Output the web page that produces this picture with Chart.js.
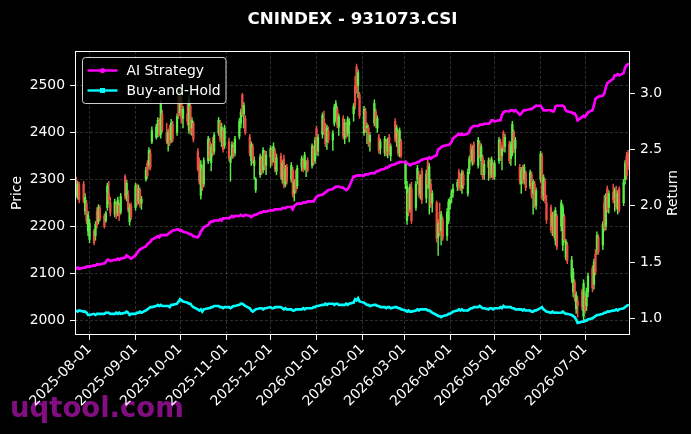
<!DOCTYPE html>
<html>
<head>
<meta charset="utf-8">
<script src="https://cdn.jsdelivr.net/npm/chart.js@4.4.1/dist/chart.umd.min.js"></script>
<style>
  html, body { margin: 0; padding: 0; background: #000; }
  canvas { display: block; }
</style>
</head>
<body>
<canvas id="myChart" width="691" height="434"></canvas>
<script>
// trading days run Mon-Fri from firstDay to lastDay
const firstDay = "2025-07-23";
const lastDay = "2026-07-30";
const monthLabels = ["2025-08-01", "2025-09-01", "2025-10-01", "2025-11-01", "2025-12-01", "2026-01-01",
  "2026-02-01", "2026-03-01", "2026-04-01", "2026-05-01", "2026-06-01", "2026-07-01"];
const priceTicks = [2000, 2100, 2200, 2300, 2400, 2500];
const returnTicks = [1.0, 1.5, 2.0, 2.5, 3.0];

// one line per week
const opens = [
  2298,2262,2288,
  2290,2232,2248,2190,2172, 2190,2180,2232,2210,2238, 2222,2212,2240,2270,2250, 2226,2246,2228,2244,2230,
  2306,2262,2266,2210,2244, 2240,2282,2254,2278,2250, 2300,2334,2330,2356,2380, 2390,2400,2424,2396,2440,
  2400,2378,2410,2384,2418, 2400,2480,2442,2470,2430, 2440,2405,2456,2410,2420, 2360,2330,2266,2322,2290,
  2340,2380,2336,2372,2360, 2400,2420,2390,2404,2372, 2380,2336,2350,2368,2356, 2392,2420,2480,2440,2430,
  2390,2340,2370,2330,2278, 2310,2344,2320,2356,2330, 2348,2362,2340,2360,2318, 2350,2300,2344,2290,2326,
  2300,2320,2272,2298,2286, 2326,2340,2324,2330,2340, 2330,2366,2340,2408,2360, 2396,2430,2404,2380,2404,
  2384,2420,2430,2450,2412, 2430,2390,2416,2398,2416, 2440,2500,2540,2500,2480, 2400,2446,2410,2410,2380,
  2420,2444,2410,2390,2366, 2356,2380,2360,2390,2350, 2424,2390,2400,2356,2380, 2290,2212,2270,2236,2280,
  2240,2300,2310,2270,2318, 2260,2336,2280,2290,2250, 2250,2176,2230,2190,2214, 2180,2212,2246,2262,2272,
  2284,2316,2300,2282,2310, 2270,2320,2370,2340,2376, 2330,2376,2340,2346,2310, 2326,2338,2310,2330,2306,
  2340,2380,2350,2400,2370, 2376,2344,2360,2400,2366, 2326,2290,2320,2300,2314, 2286,2310,2270,2290,2244,
  2300,2350,2266,2296,2250, 2240,2200,2226,2170,2220, 2200,2160,2220,2134,2160, 2090,2060,2080,2024,2040,
  2060,2008,2050,2030,2060, 2110,2076,2140,2150,2176, 2160,2250,2200,2280,2240, 2272,2260,2276,2240,2280,
  2250,2300,2350,2356
];
const highs = [
  2305,2296,2294,
  2296,2270,2255,2232,2215, 2194,2210,2240,2246,2244, 2226,2232,2292,2296,2262, 2258,2252,2262,2250,2270,
  2310,2298,2276,2248,2250, 2292,2290,2288,2282,2264, 2326,2340,2368,2364,2412, 2418,2432,2430,2468,2448,
  2420,2406,2416,2428,2424, 2440,2486,2496,2476,2456, 2462,2480,2464,2432,2424, 2366,2346,2340,2330,2346,
  2392,2388,2376,2390,2400, 2432,2426,2420,2410,2416, 2388,2350,2380,2378,2392, 2430,2450,2484,2464,2436,
  2396,2380,2376,2348,2304, 2354,2350,2368,2362,2360, 2372,2370,2378,2366,2354, 2356,2340,2352,2330,2332,
  2336,2326,2300,2320,2330, 2350,2346,2358,2340,2346, 2376,2372,2390,2414,2396, 2442,2446,2420,2416,2412,
  2404,2460,2468,2456,2440, 2436,2428,2422,2434,2430, 2462,2520,2546,2534,2486, 2456,2452,2420,2416,2400,
  2470,2450,2436,2396,2386, 2392,2386,2388,2396,2376, 2430,2416,2406,2410,2386, 2340,2296,2282,2290,2294,
  2296,2330,2318,2310,2324, 2320,2342,2334,2300,2276, 2254,2214,2250,2232,2220, 2238,2258,2262,2278,2290,
  2300,2322,2312,2320,2318, 2322,2350,2376,2372,2380, 2390,2382,2376,2352,2340, 2346,2344,2348,2336,2340,
  2390,2386,2372,2404,2396, 2382,2380,2424,2406,2390, 2332,2326,2330,2332,2318, 2320,2316,2300,2296,2282,
  2360,2356,2310,2302,2266, 2246,2230,2232,2240,2226, 2256,2246,2226,2172,2166, 2136,2110,2086,2060,2050,
  2066,2086,2056,2068,2100, 2116,2130,2150,2188,2182, 2210,2266,2270,2286,2276, 2290,2282,2286,2276,2284,
  2300,2340,2358,2362
];
const lows = [
  2262,2258,2250,
  2250,2225,2205,2180,2165, 2160,2170,2196,2205,2212, 2196,2208,2234,2248,2222, 2220,2216,2222,2212,2226,
  2258,2254,2230,2202,2214, 2234,2244,2248,2240,2236, 2296,2302,2322,2320,2376, 2386,2390,2392,2388,2400,
  2376,2360,2372,2378,2380, 2394,2430,2436,2420,2410, 2416,2398,2396,2394,2380, 2318,2290,2258,2276,2284,
  2334,2340,2318,2350,2354, 2394,2380,2370,2358,2366, 2340,2296,2344,2346,2350, 2386,2410,2434,2410,2396,
  2350,2330,2334,2300,2272, 2304,2310,2314,2320,2310, 2326,2330,2336,2316,2310, 2300,2292,2282,2284,2290,
  2294,2262,2254,2270,2280, 2318,2316,2320,2306,2316, 2324,2330,2334,2352,2350, 2388,2396,2370,2364,2378,
  2362,2414,2424,2410,2394, 2386,2376,2388,2392,2380, 2424,2450,2484,2474,2430, 2394,2400,2376,2370,2360,
  2414,2410,2400,2356,2354, 2350,2350,2346,2352,2340, 2380,2370,2350,2348,2346, 2280,2204,2222,2230,2206,
  2234,2290,2262,2258,2248, 2250,2282,2226,2240,2230, 2166,2138,2180,2160,2170, 2170,2206,2236,2250,2262,
  2276,2278,2276,2270,2280, 2264,2312,2336,2330,2332, 2324,2346,2310,2300,2300, 2298,2302,2304,2300,2300,
  2334,2340,2320,2360,2358, 2334,2330,2350,2356,2330, 2290,2270,2292,2290,2276, 2280,2260,2226,2240,2236,
  2294,2256,2254,2250,2206, 2186,2180,2176,2160,2150, 2190,2148,2166,2128,2120, 2080,2050,2040,2014,2006,
  2020,2000,2016,2020,2050, 2060,2066,2096,2140,2140, 2150,2190,2192,2230,2228, 2250,2232,2236,2226,2230,
  2244,2290,2300,2320
];
const closes = [
  2268,2290,2256,
  2255,2262,2212,2225,2206, 2165,2204,2202,2240,2216, 2200,2228,2286,2256,2230, 2252,2224,2256,2222,2264,
  2264,2292,2236,2240,2220, 2286,2250,2280,2246,2258, 2320,2308,2362,2326,2404, 2412,2426,2398,2462,2406,
  2382,2400,2378,2420,2386, 2434,2438,2488,2426,2450, 2424,2470,2404,2426,2386, 2322,2296,2332,2282,2340,
  2386,2346,2370,2356,2394, 2426,2386,2412,2364,2410, 2346,2344,2374,2352,2386, 2424,2444,2438,2458,2400,
  2356,2374,2340,2340,2300, 2348,2316,2362,2328,2352, 2366,2336,2370,2322,2346, 2306,2334,2288,2322,2296,
  2330,2268,2294,2276,2324, 2344,2322,2352,2336,2320, 2370,2336,2384,2358,2390, 2436,2402,2376,2410,2384,
  2398,2454,2462,2416,2434, 2392,2420,2394,2428,2424, 2456,2458,2490,2528,2436, 2450,2406,2414,2376,2394,
  2462,2416,2430,2362,2380, 2386,2356,2382,2358,2370, 2386,2410,2356,2404,2350, 2334,2286,2230,2284,2212,
  2290,2324,2268,2304,2256, 2312,2290,2328,2246,2270, 2174,2206,2186,2226,2176, 2230,2252,2256,2270,2280,
  2294,2284,2282,2314,2288, 2316,2344,2342,2364,2338, 2384,2350,2370,2306,2332, 2340,2306,2342,2304,2334,
  2384,2346,2366,2366,2390, 2340,2374,2418,2362,2384, 2296,2320,2298,2326,2282, 2314,2266,2294,2246,2276,
  2354,2262,2304,2258,2214, 2192,2224,2184,2234,2156, 2250,2240,2172,2168,2126, 2128,2102,2046,2054,2030,
  2028,2078,2022,2062,2094, 2068,2124,2102,2180,2146, 2204,2196,2262,2236,2270, 2256,2276,2242,2270,2236,
  2294,2334,2308,2330
];
const aiReturn = [
  1.44,1.45,1.44,
  1.45,1.45,1.46,1.46,1.46, 1.47,1.47,1.48,1.48,1.48, 1.49,1.50,1.52,1.52,1.51, 1.52,1.52,1.53,1.52,1.53,
  1.54,1.56,1.55,1.54,1.53, 1.56,1.58,1.60,1.61,1.62, 1.64,1.66,1.67,1.68,1.70, 1.72,1.73,1.72,1.74,1.74,
  1.74,1.75,1.76,1.77,1.78, 1.79,1.79,1.78,1.78,1.77, 1.76,1.75,1.75,1.74,1.73, 1.72,1.74,1.77,1.79,1.81,
  1.83,1.85,1.86,1.86,1.87, 1.87,1.88,1.87,1.89,1.89, 1.89,1.90,1.91,1.90,1.91, 1.91,1.92,1.91,1.91,1.92,
  1.91,1.90,1.91,1.92,1.92, 1.94,1.94,1.95,1.95,1.95, 1.96,1.96,1.96,1.97,1.97, 1.97,1.98,1.98,1.98,1.99,
  1.99,1.97,2.00,2.01,2.02, 2.02,2.03,2.03,2.03,2.04, 2.04,2.04,2.06,2.08,2.09, 2.10,2.11,2.12,2.13,2.14,
  2.15,2.16,2.17,2.17,2.17, 2.16,2.15,2.14,2.15,2.17, 2.26,2.26,2.27,2.27,2.27, 2.27,2.28,2.28,2.28,2.29,
  2.29,2.30,2.31,2.31,2.32, 2.33,2.34,2.34,2.35,2.36, 2.37,2.38,2.38,2.39,2.39, 2.39,2.38,2.37,2.36,2.37,
  2.38,2.39,2.39,2.40,2.41, 2.42,2.42,2.43,2.42,2.43, 2.45,2.50,2.51,2.52,2.53, 2.54,2.54,2.55,2.57,2.60,
  2.63,2.64,2.63,2.64,2.63, 2.64,2.66,2.69,2.70,2.71, 2.71,2.72,2.72,2.72,2.73, 2.73,2.74,2.76,2.76,2.75,
  2.76,2.76,2.81,2.83,2.84, 2.84,2.85,2.85,2.84,2.85, 2.81,2.82,2.84,2.85,2.85, 2.86,2.86,2.87,2.88,2.89,
  2.89,2.87,2.85,2.85,2.85, 2.85,2.84,2.84,2.88,2.89, 2.89,2.89,2.88,2.85,2.84, 2.83,2.82,2.82,2.80,2.76,
  2.79,2.80,2.79,2.81,2.83, 2.85,2.89,2.95,2.96,2.97, 2.98,3.00,3.05,3.09,3.10, 3.13,3.16,3.16,3.17,3.16,
  3.18,3.23,3.25,3.26
];
const bhReturn = [
  1.07,1.06,1.07,
  1.06,1.06,1.05,1.03,1.03, 1.04,1.03,1.04,1.04,1.04, 1.04,1.05,1.05,1.05,1.04, 1.04,1.05,1.04,1.05,1.04,
  1.05,1.06,1.05,1.03,1.04, 1.04,1.05,1.05,1.06,1.05, 1.07,1.08,1.09,1.10,1.10, 1.11,1.12,1.11,1.12,1.11,
  1.11,1.11,1.10,1.12,1.12, 1.13,1.15,1.17,1.16,1.15, 1.14,1.13,1.13,1.11,1.10, 1.08,1.07,1.08,1.06,1.08,
  1.09,1.09,1.10,1.10,1.11, 1.11,1.10,1.10,1.09,1.10, 1.10,1.09,1.10,1.11,1.11, 1.12,1.13,1.13,1.12,1.11,
  1.09,1.07,1.06,1.07,1.08, 1.09,1.09,1.08,1.09,1.09, 1.10,1.09,1.09,1.10,1.10, 1.10,1.09,1.08,1.09,1.08,
  1.08,1.07,1.07,1.08,1.08, 1.08,1.09,1.08,1.09,1.09, 1.09,1.10,1.10,1.11,1.11, 1.12,1.12,1.13,1.12,1.13,
  1.13,1.12,1.13,1.13,1.12, 1.12,1.12,1.13,1.12,1.13, 1.14,1.17,1.16,1.18,1.15, 1.14,1.13,1.12,1.12,1.11,
  1.12,1.12,1.11,1.11,1.10, 1.10,1.09,1.10,1.10,1.09, 1.10,1.10,1.09,1.09,1.08, 1.07,1.06,1.07,1.06,1.06,
  1.07,1.08,1.07,1.08,1.08, 1.08,1.07,1.07,1.06,1.05, 1.03,1.02,1.02,1.01,1.02, 1.03,1.04,1.04,1.05,1.06,
  1.07,1.08,1.07,1.08,1.07, 1.07,1.08,1.09,1.09,1.10, 1.10,1.11,1.10,1.09,1.09, 1.08,1.09,1.09,1.08,1.09,
  1.09,1.10,1.09,1.11,1.10, 1.10,1.10,1.09,1.09,1.08, 1.08,1.08,1.07,1.08,1.07, 1.07,1.06,1.06,1.07,1.07,
  1.09,1.10,1.08,1.07,1.06, 1.05,1.06,1.05,1.05,1.05, 1.05,1.06,1.05,1.04,1.04, 1.03,1.02,1.01,0.99,0.96,
  0.97,0.97,0.98,0.98,0.99, 1.00,1.01,1.02,1.03,1.03, 1.04,1.05,1.05,1.06,1.06, 1.07,1.07,1.08,1.07,1.08,
  1.09,1.10,1.11,1.12
];

const DAY = 86400000;
const origin = Date.UTC(2025, 7, 1);
function dayNum(s) {
  const p = s.split("-");
  return Math.round((Date.UTC(+p[0], +p[1] - 1, +p[2]) - origin) / DAY);
}

let days = [];
for (let d = dayNum(firstDay); d <= dayNum(lastDay); d++) {
  const wd = new Date(origin + d * DAY).getUTCDay();
  if (wd !== 0 && wd !== 6) days.push(d);
}
const n = Math.min(days.length, closes.length);
days = days.slice(0, n);
const monthDays = monthLabels.map(dayNum);

const upColor = "#5cec46";
const downColor = "#ec5044";
const candleColors = days.map((d, i) => closes[i] >= opens[i] ? upColor : downColor);

const fontFamily = "'DejaVu Sans', sans-serif";
Chart.defaults.font.family = fontFamily;
Chart.defaults.font.size = 13.9;
Chart.defaults.color = "#fff";

const gridColor = "rgba(140,140,140,0.45)";

const decorPlugin = {
  id: "decor",
  beforeDraw(chart) {
    const ctx = chart.ctx;
    ctx.save();
    ctx.fillStyle = "#000";
    ctx.fillRect(0, 0, chart.width, chart.height);
    ctx.fillStyle = "#820e82";
    ctx.font = "bold 27.5px " + fontFamily;
    ctx.textBaseline = "alphabetic";
    ctx.fillText("uqtool.com", 10, 417);
    ctx.restore();
  },
  afterDraw(chart) {
    const ctx = chart.ctx;
    const a = chart.chartArea;
    ctx.save();
    // frame
    ctx.strokeStyle = "#fff";
    ctx.lineWidth = 1;
    ctx.strokeRect(a.left + 0.5, a.top + 0.5, a.right - a.left - 1, a.bottom - a.top - 1);

    // title
    ctx.fillStyle = "#fff";
    ctx.font = "bold 16.7px " + fontFamily;
    ctx.textAlign = "center";
    ctx.textBaseline = "alphabetic";
    ctx.fillText("CNINDEX - 931073.CSI", (a.left + a.right) / 2, 24);

    // axis titles
    ctx.font = "13.9px " + fontFamily;
    ctx.textBaseline = "middle";
    const midY = (a.top + a.bottom) / 2;
    ctx.save();
    ctx.translate(17.5, midY);
    ctx.rotate(-Math.PI / 2);
    ctx.fillText("Price", 0, 0);
    ctx.restore();
    ctx.save();
    ctx.translate(673.5, midY);
    ctx.rotate(-Math.PI / 2);
    ctx.fillText("Return", 0, 0);
    ctx.restore();

    // legend
    const bx = a.left + 7.5, by = a.top + 6.5, bw = 143.5, bh = 46;
    ctx.beginPath();
    ctx.roundRect(bx, by, bw, bh, 3);
    ctx.fillStyle = "rgba(0,0,0,0.8)";
    ctx.fill();
    ctx.strokeStyle = "rgba(230,230,230,0.9)";
    ctx.lineWidth = 1;
    ctx.stroke();

    const items = [
      { label: "AI Strategy", color: "#ff00ff", marker: "circle", y: by + 13 },
      { label: "Buy-and-Hold", color: "#00ffff", marker: "rect", y: by + 33 }
    ];
    items.forEach((it) => {
      ctx.strokeStyle = it.color;
      ctx.fillStyle = it.color;
      ctx.lineWidth = 2.4;
      ctx.beginPath();
      ctx.moveTo(bx + 5, it.y);
      ctx.lineTo(bx + 35, it.y);
      ctx.stroke();
      if (it.marker === "circle") {
        ctx.beginPath();
        ctx.arc(bx + 20, it.y, 2.6, 0, Math.PI * 2);
        ctx.fill();
      } else {
        ctx.fillRect(bx + 17.5, it.y - 2.5, 5, 5);
      }
      ctx.fillStyle = "#fff";
      ctx.textAlign = "left";
      ctx.textBaseline = "middle";
      ctx.fillText(it.label, bx + 44, it.y + 0.5);
    });
    ctx.restore();
  }
};

new Chart(document.getElementById("myChart"), {
  type: "bar",
  data: {
    datasets: [
      {
        type: "line",
        label: "AI Strategy",
        data: days.map((d, i) => ({ x: d, y: aiReturn[i] })),
        yAxisID: "y1",
        borderColor: "#ff00ff",
        backgroundColor: "#ff00ff",
        borderWidth: 2.6,
        pointRadius: 1.2,
        pointBorderWidth: 0,
        pointStyle: "circle",
        tension: 0,
        order: 0
      },
      {
        type: "line",
        label: "Buy-and-Hold",
        data: days.map((d, i) => ({ x: d, y: bhReturn[i] })),
        yAxisID: "y1",
        borderColor: "#00ffff",
        backgroundColor: "#00ffff",
        borderWidth: 2.6,
        pointRadius: 1.2,
        pointBorderWidth: 0,
        pointStyle: "rect",
        tension: 0,
        order: 1
      },
      {
        label: "body",
        data: days.map((d, i) => ({ x: d, y: [opens[i], closes[i]] })),
        yAxisID: "y",
        backgroundColor: candleColors,
        barThickness: 1.6,
        minBarLength: 1,
        grouped: false,
        order: 2
      },
      {
        label: "wick",
        data: days.map((d, i) => ({ x: d, y: [lows[i], highs[i]] })),
        yAxisID: "y",
        backgroundColor: candleColors,
        barThickness: 0.8,
        grouped: false,
        order: 3
      }
    ]
  },
  options: {
    responsive: false,
    animation: false,
    layout: { padding: { top: 51, left: 0, right: 0, bottom: 0 } },
    plugins: {
      legend: { display: false },
      title: { display: false },
      tooltip: { enabled: false }
    },
    scales: {
      x: {
        type: "linear",
        min: -9.8,
        max: 364.3,
        offset: false,
        grid: { color: gridColor, lineWidth: 0.7, offset: false, tickColor: "#fff", tickLength: 5, tickWidth: 1 },
        border: { display: false, dash: [3, 2] },
        ticks: {
          color: "#fff",
          autoSkip: false,
          minRotation: 45,
          maxRotation: 45,
          padding: 1,
          callback: (v, i) => monthLabels[i]
        },
        afterBuildTicks: (s) => { s.ticks = monthDays.map((v) => ({ value: v })); },
        afterFit: (s) => { s.height = 99; }
      },
      y: {
        position: "left",
        min: 1968,
        max: 2574,
        grid: { color: gridColor, lineWidth: 0.7, tickColor: "#fff", tickLength: 5, tickWidth: 1 },
        border: { display: false, dash: [3, 2] },
        ticks: { color: "#fff", padding: 5, callback: (v) => String(v) },
        afterBuildTicks: (s) => { s.ticks = priceTicks.map((v) => ({ value: v })); },
        afterFit: (s) => { s.width = 75; }
      },
      y1: {
        position: "right",
        min: 0.852,
        max: 3.376,
        grid: { drawOnChartArea: false, tickColor: "#fff", tickLength: 5, tickWidth: 1 },
        border: { display: false },
        ticks: { color: "#fff", padding: 5, callback: (v) => v.toFixed(1) },
        afterBuildTicks: (s) => { s.ticks = returnTicks.map((v) => ({ value: v })); },
        afterFit: (s) => { s.width = 61; }
      }
    }
  },
  plugins: [decorPlugin]
});
</script>
</body>
</html>
